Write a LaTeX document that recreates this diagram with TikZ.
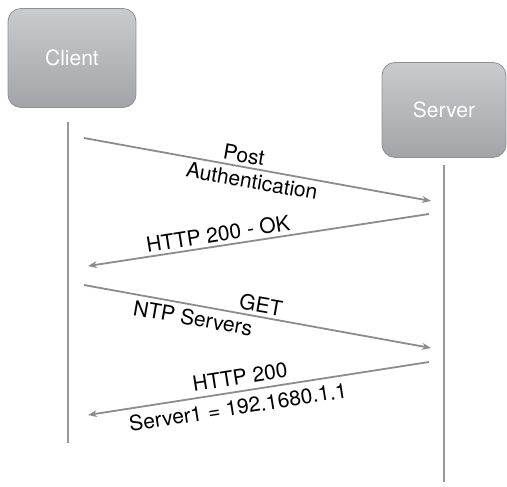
\documentclass[tikz,border=0pt]{standalone}
\usepackage{fontspec}
\setmainfont{TeX Gyre Heros}
\usetikzlibrary{arrows.meta}
\definecolor{boxtop}{HTML}{C9CBCE}
\definecolor{boxbot}{HTML}{A2A4A7}
\definecolor{boxedge}{HTML}{8E9093}
\definecolor{linegray}{HTML}{8C8C8C}
\tikzset{
  actor/.style={rounded corners=13pt, top color=boxtop, bottom color=boxbot,
    draw=boxedge, line width=0.8pt, text=white,
    font=\fontsize{21}{24}\selectfont, inner sep=0pt},
  lifeline/.style={draw=linegray!90, line width=2.4pt},
  msg/.style={draw=linegray, line width=1.8pt,
    -{Stealth[length=9pt,width=7pt]}},
  lbl/.style={font=\fontsize{21}{22}\selectfont, inner sep=0pt, text=black}
}
\begin{document}
\begin{tikzpicture}[x=1pt,y=-1pt]
\useasboundingbox (0,0) rectangle (507,487);
% actors
\node[actor, minimum width=128pt, minimum height=99pt] (client) at (72,58) {Client};
\node[actor, minimum width=124pt, minimum height=95pt] (server) at (444,110) {Server};
% lifelines
\coordinate (c-top) at (68,122);
\coordinate (c-bot) at (68,443);
\coordinate (s-top) at (444,165);
\coordinate (s-bot) at (444,482);
\draw[lifeline] (c-top) -- (c-bot);
\draw[lifeline] (s-top) -- (s-bot);
% message end points
\coordinate (m1a) at (84,138);  \coordinate (m1b) at (431,201);
\coordinate (m2a) at (429,214); \coordinate (m2b) at (88,266);
\coordinate (m3a) at (84,285);  \coordinate (m3b) at (431,348);
\coordinate (m4a) at (429,362); \coordinate (m4b) at (88,415);
\draw[msg] (m1a) -- (m1b);
\draw[msg] (m2a) -- (m2b);
\draw[msg] (m3a) -- (m3b);
\draw[msg] (m4a) -- (m4b);
% labels
\node[lbl, rotate=-10] (l1a) at (244,155) {Post};
\node[lbl, rotate=-10] (l1b) at (252,181) {Authentication};
\node[lbl, rotate=9] (l2) at (218,234) {HTTP 200 - OK};
\node[lbl, rotate=-10] (l3a) at (261,305) {GET};
\node[lbl, rotate=-10] (l3b) at (193,318) {NTP Servers};
\node[lbl, rotate=9] (l4a) at (240,377) {HTTP 200};
\node[lbl, rotate=9] (l4b) at (238,407) {Server1 = 192.1680.1.1};
\end{tikzpicture}
\end{document}
